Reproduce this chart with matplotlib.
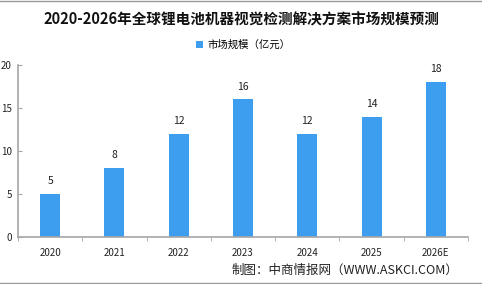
import matplotlib
matplotlib.use("Agg")
from matplotlib import pyplot as plt

plt.rcParams["font.family"] = ["Noto Sans CJK SC", "DejaVu Sans"]

#data
years = ["2020", "2021", "2022", "2023", "2024", "2025", "2026E"]
market_size = [5, 8, 12, 16, 12, 14, 18]
title = "2020-2026年全球锂电池机器视觉检测解决方案市场规模预测"
series_name = "市场规模（亿元）"
source = "制图：中商情报网（WWW.ASKCI.COM）"

bar_color = "#3d9ef0"
axis_color = "#a6a6a6"

fig = plt.figure(figsize=(4.82, 2.84), dpi=100)
ax = fig.add_axes([18 / 482, 1 - 237 / 284, 450 / 482, 172 / 284])

x = range(len(years))
ax.bar(x, market_size, width=0.31, color=bar_color, label=series_name, zorder=2)
for xi, v in zip(x, market_size):
    ax.text(xi, v + 0.9, str(v), ha="center", va="bottom", fontsize=7.5, color="#222222")

ax.set_xlim(-0.5, len(years) - 0.5)
ax.set_ylim(0, 20)
ax.set_yticks([0, 5, 10, 15, 20])
ax.set_xticks(list(x))
ax.set_xticklabels(years)
# ticks between categories on x axis
ax.set_xticks([i + 0.5 for i in range(-1, len(years))], minor=True)
ax.tick_params(axis="x", which="major", length=0, labelsize=7, pad=8, colors="#222222")
ax.tick_params(axis="x", which="minor", length=3, color=axis_color, direction="out")
ax.tick_params(axis="y", length=3, direction="in", labelsize=7, pad=4.5,
               labelcolor="#222222", color=axis_color)

for s in ["top", "right"]:
    ax.spines[s].set_visible(False)
for s in ["left", "bottom"]:
    ax.spines[s].set_color(axis_color)
    ax.spines[s].set_linewidth(1.2)

fig.text(0.5, 1 - 19 / 284, title, ha="center", va="center", fontsize=10.5,
         fontweight="bold", color="#111111")
ax.legend(loc="center", bbox_to_anchor=(0.5, (237 - 45) / 172),
          frameon=False, fontsize=7.5, handlelength=0.7, handleheight=0.7, handletextpad=0.4)
fig.text(458 / 482, 1 - 270 / 284, source, ha="right", va="center", fontsize=9, color="#222222")

# border lines top and bottom
fig.add_artist(plt.Line2D([0, 1], [0.998, 0.998], color="#999999", lw=1))
fig.add_artist(plt.Line2D([0, 1], [0.004, 0.004], color="#999999", lw=1))

fig.savefig("out.png", dpi=100)
